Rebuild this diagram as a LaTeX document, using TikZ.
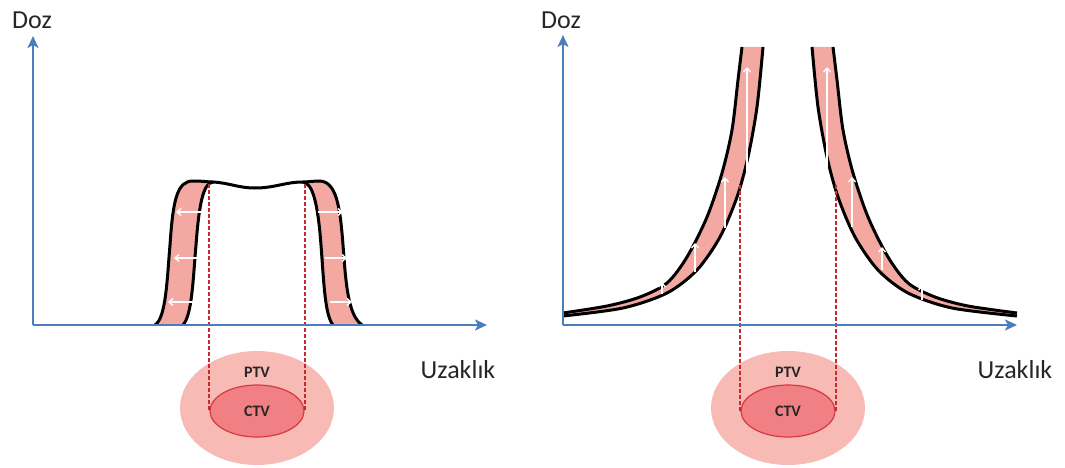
\documentclass[tikz,border=0pt]{standalone}
\usepackage{fontspec}
\setmainfont{Carlito}
\usetikzlibrary{arrows.meta, shapes.geometric}
\definecolor{DZaxis}{HTML}{4A7EBB}
\definecolor{DZband}{HTML}{F4A8A2}
\definecolor{DZptv}{HTML}{F7BAB5}
\definecolor{DZctv}{HTML}{F08084}
\definecolor{DZctvline}{HTML}{D63A40}
\definecolor{DZdash}{HTML}{C8282E}
\definecolor{DZink}{HTML}{262626}
\tikzset{
  dzaxis/.style={draw=DZaxis, line width=2.6pt, -{Stealth[length=12pt,width=11pt,inset=3pt]}},
  dzband/.style={fill=DZband},
  dzcurve/.style={draw=black, line width=3pt},
  dzdash/.style={draw=DZdash, line width=2pt, dash pattern=on 4pt off 2pt},
  dzflow/.style={draw=white, line width=1.4pt, -{Straight Barb[length=4pt,width=7pt]}},
  dzptv/.style={ellipse, fill=DZptv, minimum width=154pt, minimum height=114pt, inner sep=0pt},
  dzctv/.style={ellipse, draw=DZctvline, fill=DZctv, line width=1.2pt, minimum width=94pt,
    minimum height=52pt, inner sep=0pt, font=\fontsize{16}{18}\selectfont\bfseries, text=DZink},
  dzlbl/.style={font=\fontsize{26}{30}\selectfont, text=DZink, inner sep=0pt},
  dztag/.style={font=\fontsize{16}{18}\selectfont\bfseries, text=DZink, inner sep=0pt},
}
\begin{document}
\begin{tikzpicture}[x=1pt, y=-1pt]
        \useasboundingbox (0,0) rectangle (1065,468);
        % left: plateau profile
        \node[dzptv] (ptvL) at (257,408) {};
        \node[dzctv] (ctvL) at (257,411) {CTV};
        \node[dztag] (ptvtxtL) at (257,372) {PTV};
        \fill[dzband] (155,325) .. controls (166,318) and (167,280) .. (170,245) .. controls (173,200) and (177,181) .. (193,181)
          .. controls (203,181) and (208,182) .. (213,182) .. controls (203,183) and (199,205) .. (196,245)
          .. controls (193,280) and (192,315) .. (183,325) -- cycle;
        \fill[dzband] (303,182) .. controls (308,182) and (313,181) .. (320,181) .. controls (336,182) and (340,205) .. (343,245)
          .. controls (346,285) and (348,315) .. (362,325) -- (333,325) .. controls (325,315) and (324,285) .. (321,245)
          .. controls (318,205) and (313,183) .. (303,182) -- cycle;
        \draw[dzcurve] (155,325) .. controls (166,318) and (167,280) .. (170,245) .. controls (173,200) and (177,181) .. (193,181)
          .. controls (203,181) and (208,182) .. (213,182) .. controls (230,183) and (238,188) .. (255,188)
          .. controls (275,188) and (285,182) .. (303,182) .. controls (308,182) and (313,181) .. (320,181)
          .. controls (336,182) and (340,205) .. (343,245) .. controls (346,285) and (348,315) .. (362,325);
        \draw[dzcurve] (213,182) .. controls (203,183) and (199,205) .. (196,245) .. controls (193,280) and (192,315) .. (183,325);
        \draw[dzcurve] (303,182) .. controls (313,183) and (318,205) .. (321,245) .. controls (324,285) and (325,315) .. (333,325);
        \draw[dzdash] (ctvL.west |- 0,184) -- (ctvL.west);
        \draw[dzdash] (ctvL.east |- 0,184) -- (ctvL.east);
        \foreach \y/\a/\b in {212/201/176, 258/198/174, 302/194/168, 212/318/343, 258/325/347, 302/330/352}
          \draw[dzflow] (\a,\y) -- (\b,\y);
        \coordinate (oL) at (33,325);
        \draw[dzaxis] (oL) -- (33,36);
        \draw[dzaxis] (oL) -- (487,325);
        \node[dzlbl] (dozL) at (32,20) {Doz};
        \node[dzlbl] (uzL) at (458,370) {Uzaklık};
        % right: steep fall-off profile
        \node[dzptv] (ptvR) at (788,408) {};
        \node[dzctv] (ctvR) at (788,411) {CTV};
        \node[dztag] (ptvtxtR) at (788,372) {PTV};
        \fill[dzband] plot[smooth] coordinates {(563,313) (607,306) (640,297) (667,283) (687,257) (707,217) (722,173) (732,130) (738,80) (742,47)}
          -- plot[smooth] coordinates {(763,47) (757,107) (748,157) (737,197) (720,237) (697,270) (667,293) (623,308) (563,316)} -- cycle;
        \fill[dzband] plot[smooth] coordinates {(812,47) (818,107) (827,157) (838,197) (855,237) (878,270) (908,293) (952,308) (1017,316)}
          -- plot[smooth] coordinates {(1017,313) (968,306) (935,297) (908,283) (888,257) (868,217) (853,173) (843,130) (837,80) (833,47)} -- cycle;
        \draw[dzcurve] plot[smooth] coordinates {(563,313) (607,306) (640,297) (667,283) (687,257) (707,217) (722,173) (732,130) (738,80) (742,47)};
        \draw[dzcurve] plot[smooth] coordinates {(563,316) (623,308) (667,293) (697,270) (720,237) (737,197) (748,157) (757,107) (763,47)};
        \draw[dzcurve] plot[smooth] coordinates {(812,47) (818,107) (827,157) (838,197) (855,237) (878,270) (908,293) (952,308) (1017,316)};
        \draw[dzcurve] plot[smooth] coordinates {(833,47) (837,80) (843,130) (853,173) (868,217) (888,257) (908,283) (935,297) (968,306) (1017,313)};
        \draw[dzdash] (ctvR.west |- 0,185) -- (ctvR.west);
        \draw[dzdash] (ctvR.east |- 0,185) -- (ctvR.east);
        \foreach \x/\a/\b in {662/294/282, 695/272/243, 725/228/177, 747/182/67, 922/300/285, 882/270/247, 852/227/177, 827/180/67}
          \draw[dzflow] (\x,\a) -- (\x,\b);
        \coordinate (oR) at (563,325);
        \draw[dzaxis] (oR) -- (563,35);
        \draw[dzaxis] (oR) -- (1017,325);
        \node[dzlbl] (dozR) at (561,20) {Doz};
        \node[dzlbl] (uzR) at (1015,370) {Uzaklık};
      \end{tikzpicture}
\end{document}
